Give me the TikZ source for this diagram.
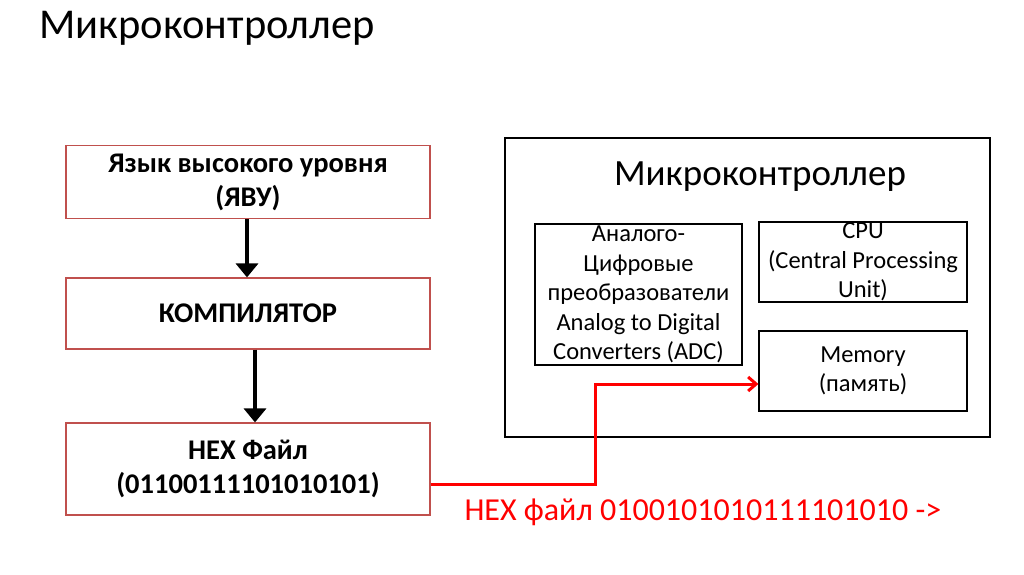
\documentclass[tikz,border=0pt]{standalone}
\usepackage{fontspec}
\setmainfont{Carlito}
\usetikzlibrary{arrows.meta}
\definecolor{boxred}{HTML}{C0504D}
\begin{document}
\begin{tikzpicture}[x=1pt,y=-1pt,
  lbox/.style={draw=boxred,line width=1.2pt,minimum width=364pt,align=center,font=\fontsize{28.5}{34}\selectfont\bfseries},
  sbox/.style={draw=black,line width=1.2pt,align=center,inner sep=0pt,font=\fontsize{24.5}{29.5}\selectfont},
  bigarrow/.style={line width=4pt,-{Triangle[length=14pt,width=22pt]}}]
\useasboundingbox (0,0) rectangle (1024,574);
\node[anchor=west,font=\fontsize{42.5}{46}\selectfont] (title) at (36,28) {Микроконтроллер};
\node[lbox,minimum height=73pt] (yavu) at (248,182) {Язык высокого уровня\\(ЯВУ)};
\node[lbox,minimum height=71pt] (comp) at (248,313.5) {КОМПИЛЯТОР};
\node[lbox,minimum height=92pt] (hex) at (248,469) {HEX Файл\\(01100111101010101)};
\node[draw,line width=1.2pt,minimum width=485pt,minimum height=299pt] (mc) at (747.5,287.5) {};
\node[font=\fontsize{37}{40}\selectfont] (mct) at (760,177) {Микроконтроллер};
\node[sbox,minimum width=207pt,minimum height=141pt] (adc) at (638.5,294.5) {Аналого-\\Цифровые\\преобразователи\\Analog to Digital\\Converters (ADC)};
\node[sbox,minimum width=208pt,minimum height=80pt] (cpu) at (863,262) {CPU\\(Central Processing\\Unit)};
\node[sbox,minimum width=208pt,minimum height=80pt] (mem) at (863,371) {Memory\\(память)};
\draw[bigarrow] (yavu.south -| 247,0) -- (comp.north -| 247,0);
\draw[bigarrow] (comp.south -| 255,0) -- (hex.north -| 255,0);
\coordinate (c1) at (595,484);
\coordinate (c2) at (595,384);
\draw[red,line width=3pt,-{Straight Barb[length=8pt,width=14pt]}] (hex.east |- c1) -- (c1) -- (c2) -- (c2 -| mem.west);
\node[anchor=west,text=red,font=\fontsize{32}{36}\selectfont] (hexlbl) at (461,512) {HEX файл 0100101010111101010 ->};
\end{tikzpicture}
\end{document}
